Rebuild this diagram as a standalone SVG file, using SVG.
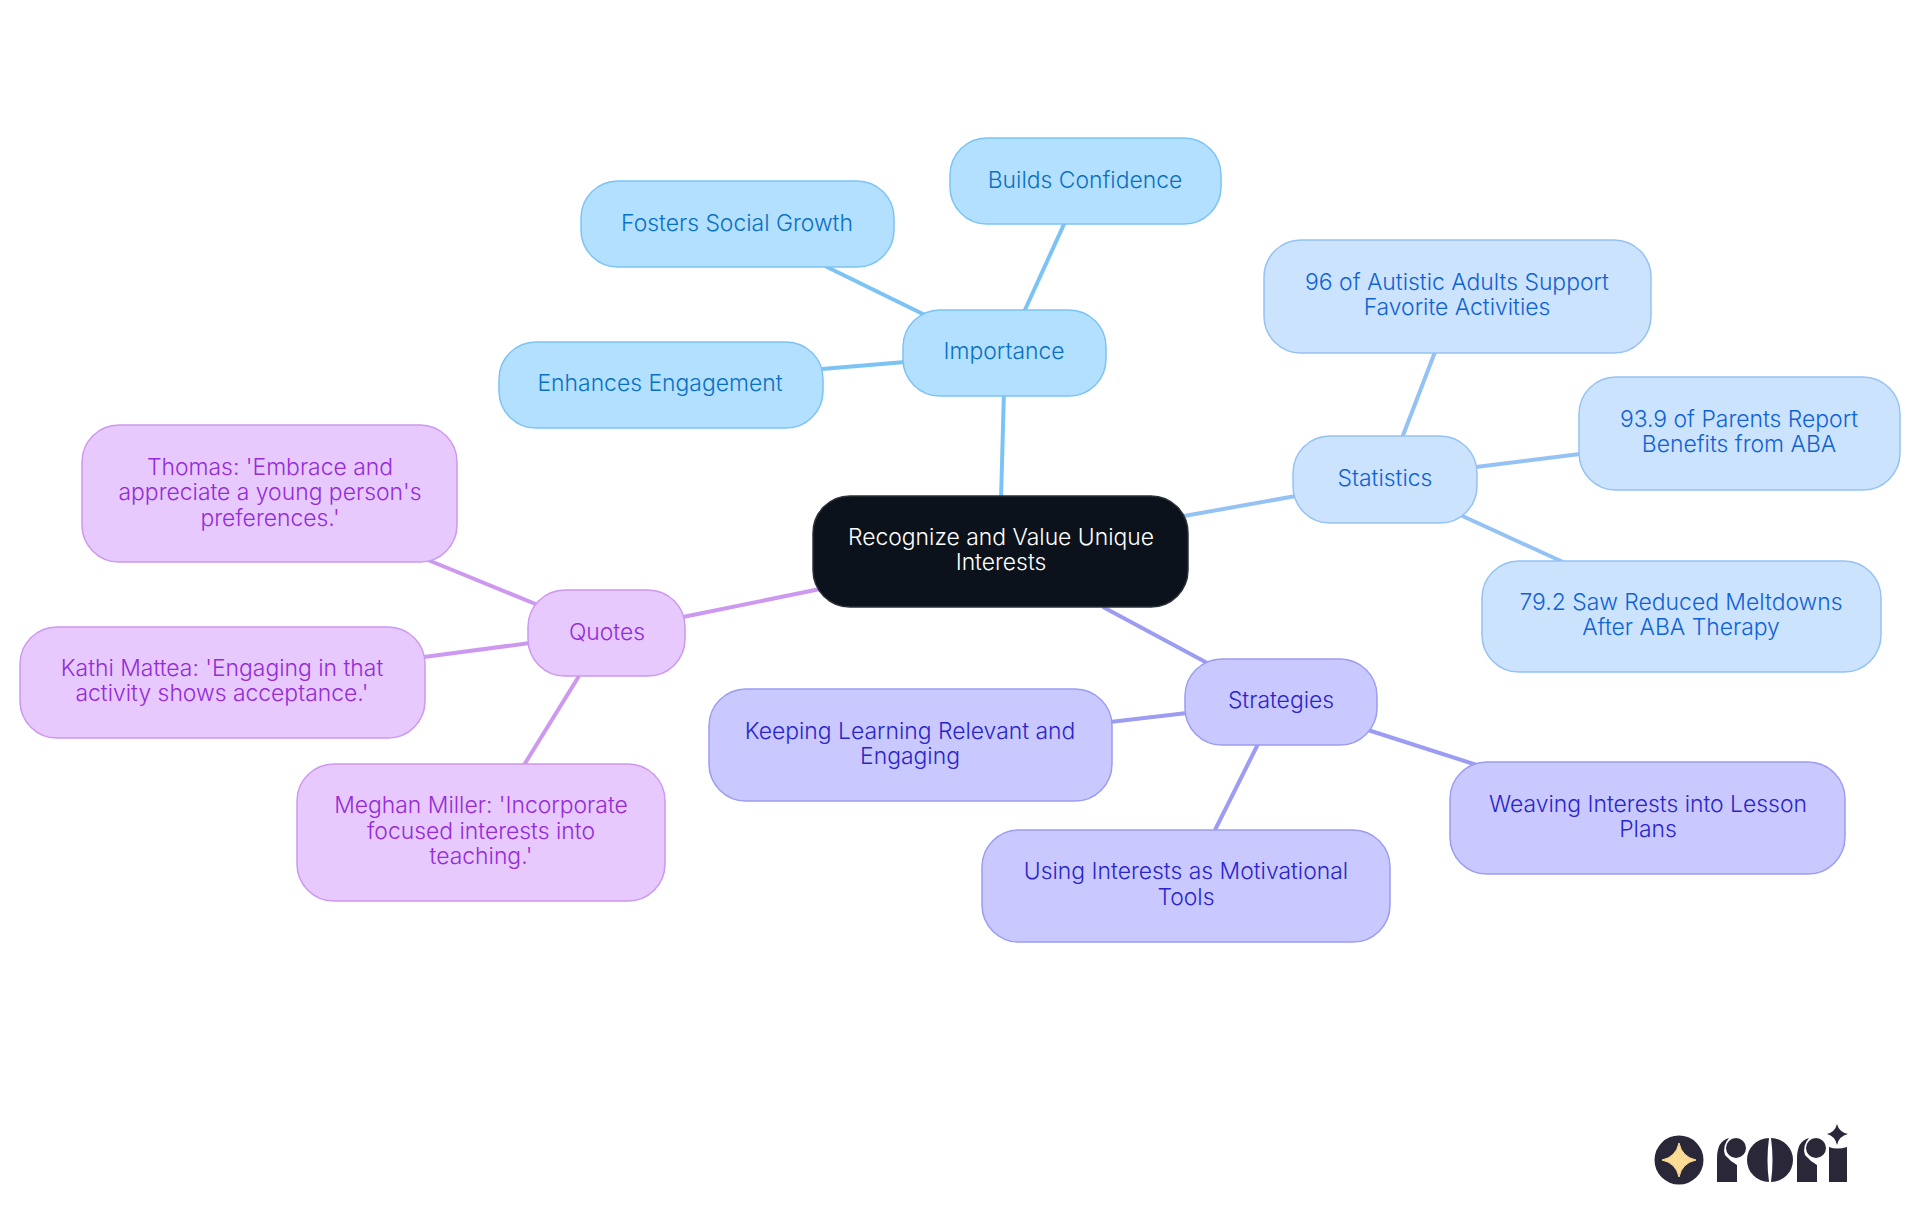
<svg xmlns="http://www.w3.org/2000/svg" width="1920" height="1215" viewBox="0 0 1920 1215">
<style>
text{font-family:"Inter","Noto Sans",sans-serif;font-size:22.9px;font-weight:350;text-anchor:middle}
.c{fill:none;stroke-width:4}
rect{stroke-width:1.5}
.a rect{fill:#b3e0ff;stroke:#7cc3f5}.a text{fill:#0a70c2}
.b rect{fill:#cce3fd;stroke:#94c2f5}.b text{fill:#0f62d6}
.s rect{fill:#c9c9ff;stroke:#9c9cf2}.s text{fill:#2b25c9}
.q rect{fill:#e7c9fd;stroke:#cd98f0}.q text{fill:#962bd8}
.l{fill:#2a2838}
</style>
<rect width="1920" height="1215" fill="#fff" stroke="none"/>
<g id="connectors">
<g stroke="#7cc3f5" class="c">
<path d="M1001 500L1004 390"/><path d="M1024 312L1065 222"/><path d="M927 316L825 266"/><path d="M905 362L822 369"/>
</g>
<g stroke="#94c2f5" class="c">
<path d="M1184 516L1296 496"/><path d="M1402 438L1435 352"/><path d="M1476 467L1580 454"/><path d="M1458 514L1563 562"/>
</g>
<g stroke="#9c9cf2" class="c">
<path d="M1103 607L1211 665"/><path d="M1187 713L1110 722"/><path d="M1258 744L1215 830"/><path d="M1368 730L1480 766"/>
</g>
<g stroke="#cd98f0" class="c">
<path d="M820 589L683 617"/><path d="M538 605L428 560"/><path d="M530 643L424 657"/><path d="M579 676L524 765"/>
</g>
</g>
<g id="root"><rect x="813" y="496" width="375" height="111" rx="37" fill="#0b121b" stroke="#2b3138"/><text x="1001" y="545" fill="#fff">Recognize and Value Unique</text><text x="1001" y="570" fill="#fff">Interests</text></g>
<g id="importance" class="a"><rect x="903" y="310" width="203" height="86" rx="37"/><text x="1004" y="359">Importance</text></g>
<g id="builds" class="a"><rect x="950" y="138" width="271" height="86" rx="37"/><text x="1085" y="188">Builds Confidence</text></g>
<g id="fosters" class="a"><rect x="581" y="181" width="313" height="86" rx="37"/><text x="737" y="231">Fosters Social Growth</text></g>
<g id="enhances" class="a"><rect x="499" y="342" width="324" height="86" rx="37"/><text x="660" y="391">Enhances Engagement</text></g>
<g id="statistics" class="b"><rect x="1293" y="436" width="184" height="87" rx="37"/><text x="1385" y="486">Statistics</text></g>
<g id="stat96" class="b"><rect x="1264" y="240" width="387" height="113" rx="37"/><text x="1457" y="290">96 of Autistic Adults Support</text><text x="1457" y="315">Favorite Activities</text></g>
<g id="stat939" class="b"><rect x="1579" y="377" width="321" height="113" rx="37"/><text x="1739" y="427">93.9 of Parents Report</text><text x="1739" y="452">Benefits from ABA</text></g>
<g id="stat792" class="b"><rect x="1482" y="561" width="399" height="111" rx="37"/><text x="1681" y="610">79.2 Saw Reduced Meltdowns</text><text x="1681" y="635">After ABA Therapy</text></g>
<g id="strategies" class="s"><rect x="1185" y="659" width="192" height="86" rx="37"/><text x="1281" y="708">Strategies</text></g>
<g id="keeping" class="s"><rect x="709" y="689" width="403" height="112" rx="37"/><text x="910" y="739">Keeping Learning Relevant and</text><text x="910" y="764">Engaging</text></g>
<g id="using" class="s"><rect x="982" y="830" width="408" height="112" rx="37"/><text x="1186" y="879">Using Interests as Motivational</text><text x="1186" y="905">Tools</text></g>
<g id="weaving" class="s"><rect x="1450" y="762" width="395" height="112" rx="37"/><text x="1648" y="812">Weaving Interests into Lesson</text><text x="1648" y="837">Plans</text></g>
<g id="quotes" class="q"><rect x="528" y="590" width="157" height="86" rx="37"/><text x="607" y="640">Quotes</text></g>
<g id="thomas" class="q"><rect x="82" y="425" width="375" height="137" rx="37"/><text x="270" y="475">Thomas: 'Embrace and</text><text x="270" y="500">appreciate a young person's</text><text x="270" y="526">preferences.'</text></g>
<g id="kathi" class="q"><rect x="20" y="627" width="405" height="111" rx="37"/><text x="222" y="676">Kathi Mattea: 'Engaging in that</text><text x="222" y="701">activity shows acceptance.'</text></g>
<g id="meghan" class="q"><rect x="297" y="764" width="368" height="137" rx="37"/><text x="481" y="813">Meghan Miller: 'Incorporate</text><text x="481" y="839">focused interests into</text><text x="481" y="864">teaching.'</text></g>
<g id="logo">
<circle class="l" cx="1679" cy="1160" r="24.5"/>
<path fill="#fddc96" d="M1679 1143Q1682 1157 1696 1160Q1682 1163 1679 1177Q1676 1163 1662 1160Q1676 1157 1679 1143Z" stroke="#fddc96" stroke-width="1"/>
<path class="l" d="M1717 1182V1158Q1717 1141 1729 1138Q1722 1146 1725 1155Q1730 1161 1737 1165V1182Z"/>
<circle class="l" cx="1736" cy="1148" r="10"/>
<path class="l" d="M1769 1138A22 22 0 0 0 1769 1182Q1766 1160 1769 1138Z"/>
<path class="l" d="M1771 1138A22 22 0 0 1 1771 1182Q1774 1160 1771 1138Z"/>
<path class="l" d="M1797 1182V1158Q1797 1141 1809 1138Q1802 1146 1805 1155Q1810 1161 1817 1165V1182Z"/>
<circle class="l" cx="1816" cy="1148" r="10"/>
<path class="l" d="M1829 1182V1147Q1837 1150 1847 1147V1182Z"/>
<path class="l" d="M1837 1124Q1839 1132 1848 1134Q1839 1136 1837 1145Q1835 1136 1827 1134Q1835 1132 1837 1124Z"/>
</g>
</svg>
